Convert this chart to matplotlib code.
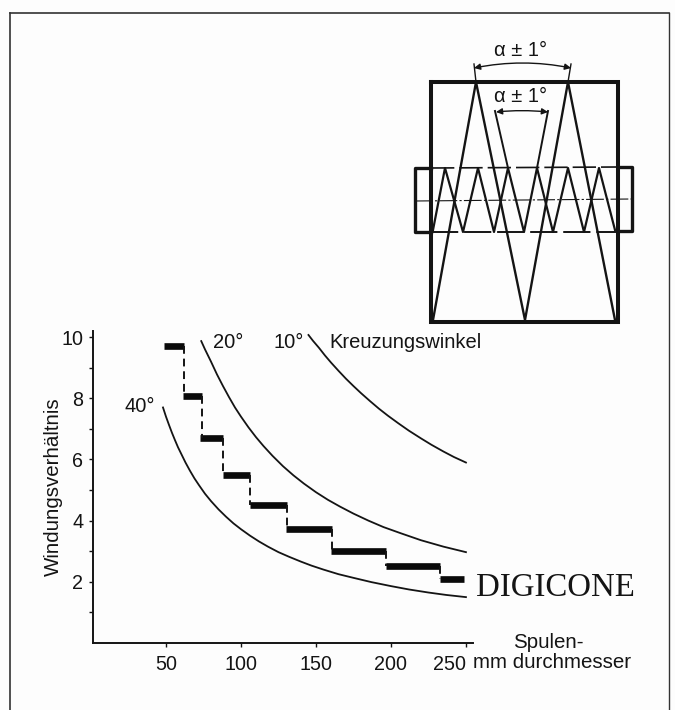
import matplotlib
matplotlib.use('Agg')
import matplotlib.pyplot as plt

plt.rcParams['font.family'] = ['Liberation Sans', 'DejaVu Sans']

W, H = 675, 710
INK = '#141414'

# curves: diameter (mm) -> winding ratio
d_40 = [48, 50, 52, 54, 56, 58, 60, 63, 66, 69, 72, 76, 80, 85, 90, 95, 100, 106, 112, 118, 125, 132, 140, 147, 155, 165, 175, 187, 200, 212, 225, 237, 250]
r_40 = [7.7, 7.4, 7.13, 6.87, 6.63, 6.4, 6.2, 5.9, 5.63, 5.38, 5.16, 4.88, 4.64, 4.37, 4.13, 3.91, 3.72, 3.51, 3.32, 3.15, 2.97, 2.82, 2.66, 2.53, 2.4, 2.25, 2.13, 1.99, 1.86, 1.75, 1.65, 1.57, 1.5]
d_20 = [73.5, 76, 80, 84, 88, 92, 96, 100, 105, 110, 115, 121, 128, 135, 142, 150, 158, 166, 175, 185, 195, 207, 220, 235, 250]
r_20 = [9.87, 9.6, 9.2, 8.78, 8.4, 8.04, 7.7, 7.4, 7.05, 6.73, 6.44, 6.12, 5.78, 5.48, 5.21, 4.93, 4.68, 4.46, 4.23, 4.0, 3.79, 3.58, 3.36, 3.15, 2.97]
d_10 = [145, 148, 152, 156, 160, 165, 170, 175, 180, 186, 192, 198, 205, 212, 220, 227, 235, 242, 250]
r_10 = [10.07, 9.88, 9.65, 9.4, 9.17, 8.9, 8.64, 8.4, 8.17, 7.91, 7.66, 7.43, 7.18, 6.94, 6.69, 6.48, 6.26, 6.08, 5.9]

# Digicone steps
step_start = [48.7, 61.5, 73, 88, 106, 130, 160, 197, 233]
step_end = [62, 74, 88, 106, 131, 161, 197, 233, 249]
step_ratio = [9.72, 8.07, 6.7, 5.5, 4.5, 3.72, 3.0, 2.52, 2.1]

y_major = [2, 4, 6, 8, 10]
y_minor = [1, 3, 5, 7, 9]
x_major = [50, 100, 150, 200, 250]

# winding schematic, image pixels
outer_x = [431, 618, 618, 431, 431]
outer_y = [82, 82, 322, 322, 82]
big_x = [433, 476, 525, 568, 615]
big_y = [320, 82, 320, 82, 320]
small_x = [433, 445, 463, 478, 494, 508, 524, 537, 553, 568, 584, 599, 615]
small_y = [230, 168, 232, 168, 232, 168, 232, 168, 232, 168, 232, 168, 230]
v_left_x = [508, 495]
v_right_x = [537, 548]
v_y = [168, 111]

fig = plt.figure(figsize=(W / 100, H / 100), dpi=100, facecolor='#fdfdfd')

# full-figure layer for frame, schematic and loose text
bg = fig.add_axes([0, 0, 1, 1])
bg.set_xlim(0, W)
bg.set_ylim(H, 0)
bg.axis('off')

bg.plot([10, 10], [H, 13], color='#333333', lw=1.2)
bg.plot([10, 669], [13, 13], color='#333333', lw=1.2)
bg.plot([669, 669], [13, H], color='#333333', lw=1.0)

bg.plot(outer_x, outer_y, color=INK, lw=2.9, solid_joinstyle='miter')
bg.plot(big_x, big_y, color=INK, lw=1.7)
bg.plot(small_x, small_y, color=INK, lw=1.6)
bg.plot(v_left_x, v_y, color=INK, lw=1.4)
bg.plot(v_right_x, v_y, color=INK, lw=1.4)

# side pieces of the core
bg.plot([431, 415, 415, 431], [168, 168, 232, 232], color=INK, lw=2.4)
bg.plot([618, 632, 632, 618], [167, 167, 231, 231], color=INK, lw=2.4)
bg.plot([431, 618], [168, 167], color=INK, lw=1.2, dashes=(14, 3))
bg.plot([431, 618], [232, 232], color=INK, lw=1.4, dashes=(14, 3))
bg.plot([415, 632], [201, 199], color=INK, lw=0.8, dashes=(16, 2, 2, 2))

# angle arrows
for x0, x1, y, rad in [(474, 571, 68, -0.1), (496, 548, 112, -0.05)]:
    bg.annotate('', xy=(x1, y), xytext=(x0, y),
                arrowprops=dict(arrowstyle='<|-|>', color=INK, lw=1.0,
                                connectionstyle=f'arc3,rad={rad}',
                                shrinkA=0, shrinkB=0, mutation_scale=9))
bg.plot([476, 474], [82, 64], color=INK, lw=1.0)
bg.plot([568, 571], [82, 64], color=INK, lw=1.0)

bg.text(521, 51, 'α ± 1°', fontsize=14.5, ha='center', va='center', color=INK)
bg.text(521, 97, 'α ± 1°', fontsize=14.5, ha='center', va='center', color=INK)

bg.text(140, 406, '40°', fontsize=14.5, ha='center', va='center', color=INK)
bg.text(228, 343, '20°', fontsize=14.5, ha='center', va='center', color=INK)
bg.text(289, 343, '10°', fontsize=14.5, ha='center', va='center', color=INK)
bg.text(329, 342, 'Kreuzungswinkel', fontsize=14.5, ha='left', va='center', color=INK)
bg.text(476, 588, 'DIGICONE', fontsize=23.7, family='Liberation Serif', ha='left', va='center', color=INK)
bg.text(513, 643, 'Spulen-', fontsize=14.8, ha='left', va='center', color=INK)
bg.text(473, 663, 'mm durchmesser', fontsize=14.8, ha='left', va='center', color=INK)
bg.text(53, 487, 'Windungsverhältnis', fontsize=14.8, rotation=90, ha='center', va='center', color=INK)

# chart axes
ax = fig.add_axes([93 / W, 1 - 643 / H, 380 / W, 312 / H])
ax.patch.set_alpha(0)
ax.set_xlim(1.33, 254.7)
ax.set_ylim(0, 10.2)
for side in ['top', 'right']:
    ax.spines[side].set_visible(False)
for side in ['left', 'bottom']:
    ax.spines[side].set_linewidth(1.4)
    ax.spines[side].set_color(INK)

ax.plot(d_40, r_40, color=INK, lw=1.3)
ax.plot(d_20, r_20, color=INK, lw=1.3)
ax.plot(d_10, r_10, color=INK, lw=1.3)

ax.hlines(step_ratio, step_start, step_end, color='#0a0a0a', lw=4.8)
for i in range(len(step_ratio) - 1):
    ax.plot([step_end[i], step_end[i]], [step_ratio[i], step_ratio[i + 1]],
            color=INK, lw=1.4, dashes=(4, 2.5))

ax.set_xticks(x_major)
ax.set_yticks(y_major)
ax.set_yticks(y_minor, minor=True)
ax.tick_params(axis='both', which='both', length=3, width=1.0, color=INK, labelcolor=INK, labelsize=14.2)
ax.tick_params(axis='x', pad=6)
ax.tick_params(axis='y', pad=4)
# the 250 sits left of its tick so it clears "mm durchmesser"
ax.get_xticklabels()[-1].set_ha('right')

fig.savefig('out.png', dpi=100, facecolor=fig.get_facecolor())
plt.close(fig)
